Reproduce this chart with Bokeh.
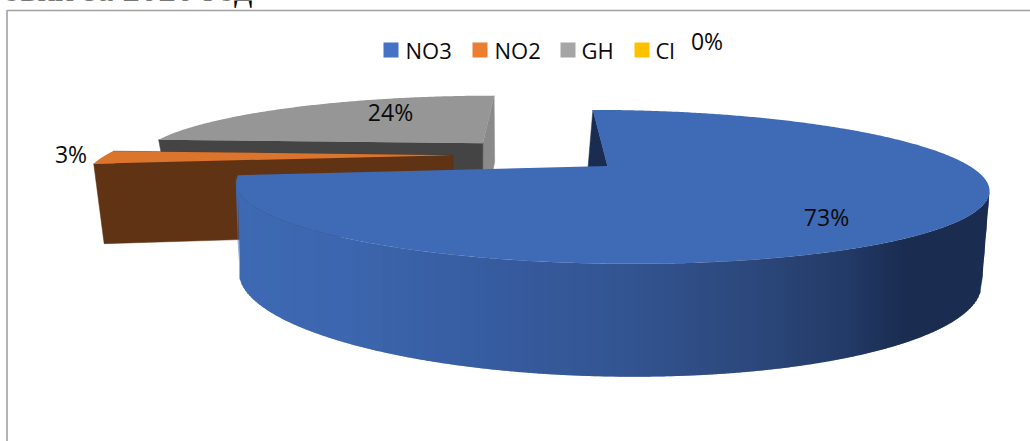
import numpy as np
from bokeh.core.properties import value
from bokeh.embed import file_html
from bokeh.models import Range1d
from bokeh.plotting import figure
from bokeh.resources import INLINE

# Share of each component, percent
categories = ["NO3", "NO2", "GH", "Cl"]
shares = [73, 3, 24, 0]
top_colors = ["#3f6ab5", "#db742c", "#969696", "#ffc000"]
legend_colors = ["#4472c4", "#ed7d31", "#a5a5a5", "#ffc000"]
wall_colors = ["#1a2c50", "#5f3314", "#444444", "#8a6a00"]
end_wall_colors = ["#1a2c50", "#5f3314", "#8a8a8a", "#8a6a00"]
legend_x = [383, 472, 560, 634]
legend_text_x = [405, 494, 581, 655]
label_pos = [(826, 216.5), (70.5, 153.5), (390, 111.5), (706.5, 40)]

# Perspective of the disc: top plane and bottom plane of the extruded pie
TOP = dict(xc=539, yc=154.2, w=346.5, h=65.3, k=0.26)
BOTTOM = dict(xc=536.4, yc=232, w=334.5, h=80.5, k=0.30)
EXPLODE = 0.25

# Side shading of the large slice, by screen x
SHADE_X = [235, 345, 500, 620, 750, 850, 905, 990]
SHADE_RGB = [(0x3e, 0x69, 0xb4), (0x3c, 0x66, 0xae), (0x36, 0x5b, 0x9f), (0x33, 0x55, 0x92),
             (0x2c, 0x48, 0x7c), (0x22, 0x3a, 0x66), (0x1a, 0x2c, 0x50), (0x1a, 0x2c, 0x50)]


def project(plane, u, v):
    d = 1 + plane["k"] * v
    return plane["xc"] + plane["w"] * u / d, plane["yc"] - plane["h"] * v / d


def shade(x):
    rgb = [np.interp(x, SHADE_X, [c[i] for c in SHADE_RGB]) for i in range(3)]
    return "#%02x%02x%02x" % tuple(int(round(c)) for c in rgb)


def descending_run(x, y):
    """Part of a curve from its rightmost point on, kept strictly right-to-left."""
    i = int(np.argmax(x))
    xs, ys = [x[i]], [y[i]]
    for a, b in zip(x[i + 1:], y[i + 1:]):
        if a < xs[-1]:
            xs.append(a)
            ys.append(b)
    return np.array(xs[::-1]), np.array(ys[::-1])


p = figure(width=1030, height=441, output_backend="svg", toolbar_location=None,
           x_range=Range1d(0, 1030), y_range=Range1d(441, 0), min_border=0,
           outline_line_color=None, background_fill_color="white", border_fill_color="white")
p.axis.visible = False
p.grid.visible = False


def slice_geometry(start, end):
    mid = np.radians((start + end) / 2)
    off_u, off_v = EXPLODE * np.sin(mid), EXPLODE * np.cos(mid)
    th = np.radians(np.linspace(start, end, max(int(end - start) * 2, 8) + 1))
    return off_u, off_v, off_u + np.sin(th), off_v + np.cos(th)


def wall(off_u, off_v, u, v, color):
    xs, ys = [], []
    for plane, us, vs in ((TOP, [u, off_u], [v, off_v]), (BOTTOM, [off_u, u], [off_v, v])):
        for a, b in zip(us, vs):
            x, y = project(plane, a, b)
            xs.append(x)
            ys.append(y)
    p.patch(xs, ys, fill_color=color, line_color=color, line_width=0.5)


def shaded_rim(tx, ty, bx, by):
    """Visible rim as vertical bands, each overlapping the next, between the two edges."""
    ux, uy = descending_run(tx, ty)
    lx, ly = descending_run(bx, by)
    # The straight side edges join the two planes at either end
    lx = np.concatenate([[tx[-1]], lx, [ux[-1]]])
    ly = np.concatenate([[ty[-1]], ly, [uy[-1]]])
    order = np.argsort(lx, kind="stable")
    lx, ly = lx[order], ly[order]
    left = np.arange(np.floor(ux[0]), np.ceil(ux[-1]), 2.0)
    right = np.minimum(left + 3, ux[-1])
    qx = [[a, b, b, a] for a, b in zip(left, right)]
    qy = [[np.interp(a, ux, uy), np.interp(b, ux, uy), np.interp(b, lx, ly), np.interp(a, lx, ly)]
          for a, b in zip(left, right)]
    cols = [shade(a + 1) for a in left]
    p.patches(qx, qy, fill_color=cols, line_color=None)


# Angles follow the shares clockwise from twelve o'clock
edges = np.concatenate([[0], np.cumsum(shares) * 3.6])
paint_order = [2, 1, 0]
for i in paint_order:
    start, end = edges[i], edges[i + 1]
    ou, ov, u, v = slice_geometry(start, end)

    # The large slice's closing wall faces away and stays hidden under its top face
    if i != 0:
        wall(ou, ov, u[-1], v[-1], end_wall_colors[i])
    wall(ou, ov, u[0], v[0], wall_colors[i])

    tx, ty = project(TOP, u, v)
    if i == 0:
        bx, by = project(BOTTOM, u, v)
        shaded_rim(tx, ty, bx, by)

    ax, ay = project(TOP, ou, ov)
    p.patch(list(tx) + [ax], list(ty) + [ay], fill_color=top_colors[i], line_color=None)

# Data labels
for share, (lx, ly) in zip(shares, label_pos):
    p.text([lx], [ly], text=[f"{share}%"], text_font=value("Open Sans"), text_font_size="23px",
           text_align="center", text_baseline="middle", text_color="#0a0a0a")

# Legend
for name, color, sx, tx_ in zip(categories, legend_colors, legend_x, legend_text_x):
    p.quad(left=[sx], right=[sx + 15], top=[42], bottom=[57], fill_color=color, line_color=None)
    p.text([tx_], [49.5], text=[name], text_font=value("Open Sans"), text_font_size="22px",
           text_align="left", text_baseline="middle", text_color="#0a0a0a")

# Chart frame
p.line([6.5, 6.5, 1030], [441, 10, 10], line_color="#a0a0a0", line_width=1.6)

# Tail of the heading above the chart
p.text([252], [-12], text=["овки за 2020 год"], text_font=value("Liberation Serif"), text_font_size="36px",
       text_align="right", text_baseline="alphabetic", text_color="#000000")

open("out.html", "w").write(file_html(p, INLINE))
